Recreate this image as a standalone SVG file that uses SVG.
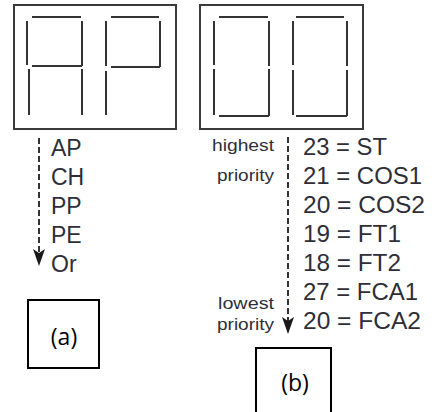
<svg xmlns="http://www.w3.org/2000/svg" width="434" height="412" viewBox="0 0 434 412">
<style>
.panel{fill:none;stroke:#3a3a3a;stroke-width:2}
.seg{stroke:#333;stroke-width:2;fill:none;stroke-linecap:butt}
.lbl{fill:none;stroke:#000;stroke-width:2}
.list{font-family:"Liberation Sans",Arial,sans-serif;font-size:23px;fill:#2e2e38}
.small{font-family:"Liberation Sans",Arial,sans-serif;font-size:16px;fill:#2e2e38}
.cap{font-family:"Open Sans","Liberation Sans",sans-serif;font-size:23px;fill:#000;text-anchor:middle}
.dash{stroke:#333;stroke-width:2;stroke-dasharray:6 3;fill:none}
</style>
<defs>
<marker id="ah" markerWidth="12" markerHeight="18" refX="6" refY="16" orient="0" markerUnits="userSpaceOnUse" viewBox="0 0 12 18">
<path d="M0,1 L6,5 L12,1 L6,18 Z" fill="#1a1a1a"/>
</marker>
</defs>
<g id="display-a">
<rect class="panel" x="14" y="5" width="162" height="124"/>
<path class="seg" d="M32,17H81 M27,21V65 M82,21V66 M32,66H82 M29,69V115 M82,69V115"/>
<path class="seg" d="M111,17H159 M106,21V66 M160,21V67 M111,67H160 M106,71V115"/>
</g>
<g id="display-b">
<rect class="panel" x="200" y="5" width="163" height="124"/>
<path class="seg" d="M219,17H268 M214,21V65 M269,21V66 M214,69V115 M269,69V116 M219,116H269"/>
<path class="seg" d="M296,17H344 M293,21V65 M347,21V66 M293,70V115 M347,70V116 M296,116H347"/>
</g>
<g id="connectors">
<path class="dash" d="M39,138V264" marker-end="url(#ah)"/>
<path class="dash" d="M288,137V332" marker-end="url(#ah)"/>
</g>
<g id="list-a">
<text class="list" x="51" y="156">AP</text>
<text class="list" x="51" y="185">CH</text>
<text class="list" x="51" y="214">PP</text>
<text class="list" x="51" y="243">PE</text>
<text class="list" x="51" y="272">Or</text>
</g>
<g id="list-b">
<text class="list" x="303" y="155" textLength="84" lengthAdjust="spacingAndGlyphs">23 = ST</text>
<text class="list" x="303" y="184" textLength="119" lengthAdjust="spacingAndGlyphs">21 = COS1</text>
<text class="list" x="303" y="213" textLength="122" lengthAdjust="spacingAndGlyphs">20 = COS2</text>
<text class="list" x="303" y="242" textLength="98" lengthAdjust="spacingAndGlyphs">19 = FT1</text>
<text class="list" x="303" y="271" textLength="98" lengthAdjust="spacingAndGlyphs">18 = FT2</text>
<text class="list" x="303" y="300" textLength="115" lengthAdjust="spacingAndGlyphs">27 = FCA1</text>
<text class="list" x="303" y="329" textLength="118" lengthAdjust="spacingAndGlyphs">20 = FCA2</text>
</g>
<g id="priority-labels">
<text class="small" x="212" y="151" textLength="62" lengthAdjust="spacingAndGlyphs">highest</text>
<text class="small" x="217" y="181" textLength="57" lengthAdjust="spacingAndGlyphs">priority</text>
<text class="small" x="218" y="309" textLength="56" lengthAdjust="spacingAndGlyphs">lowest</text>
<text class="small" x="217" y="330" textLength="57" lengthAdjust="spacingAndGlyphs">priority</text>
</g>
<g id="label-a">
<rect class="lbl" x="28" y="300" width="71" height="68"/>
<text class="cap" x="64" y="345">(a)</text>
</g>
<g id="label-b">
<rect class="lbl" x="256" y="348" width="75" height="70"/>
<text class="cap" x="295" y="391">(b)</text>
</g>
</svg>
